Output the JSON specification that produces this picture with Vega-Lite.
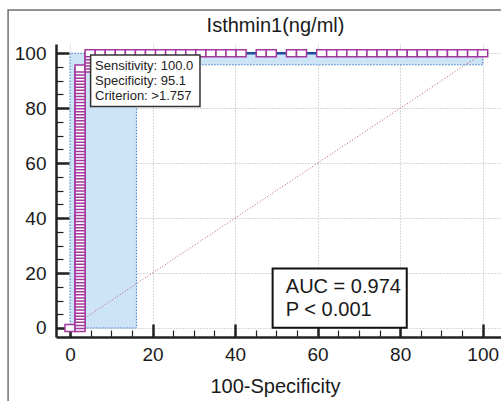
{
"$schema": "https://vega.github.io/schema/vega-lite/v6.json",
"width": 445, "height": 293,
"autosize": "none",
"padding": {"left": 56, "top": 44, "right": 0, "bottom": 64},
"background": "white",
"config": {"view": {"stroke": null}, "font": "Liberation Sans"},
"title": {"text": "Isthmin1(ng/ml)", "fontSize": 20, "fontWeight": "normal", "font": "Liberation Sans", "color": "#1a1a1a", "anchor": "middle", "frame": "group", "baseline": "alphabetic", "offset": 0, "dx": -3, "dy": 43},
"datasets": {
"frame": [{"x": -15.0, "x2": 110, "y": -30, "y2": 115.8}],
"band": [{"x": 0, "x2": 16.1, "y": 0, "y2": 100}, {"x": 16.1, "x2": 100, "y": 95.8, "y2": 100}],
"edge": [{"o": 0, "x": 0, "y": 0}, {"o": 1, "x": 0, "y": 100}, {"o": 2, "x": 100, "y": 100}, {"o": 3, "x": 100, "y": 95.8}, {"o": 4, "x": 16.1, "y": 95.8}, {"o": 5, "x": 16.1, "y": 0}, {"o": 6, "x": 0, "y": 0}],
"diag": [{"x": 0, "y": 0}, {"x": 100, "y": 100}],
"roc": [
{"i":0,"x":0,"y":0},{"i":1,"x":2.44,"y":0},
{"i":2,"x":2.44,"y":1.11},{"i":3,"x":2.44,"y":2.22},{"i":4,"x":2.44,"y":3.33},{"i":5,"x":2.44,"y":4.44},{"i":6,"x":2.44,"y":5.56},{"i":7,"x":2.44,"y":6.67},{"i":8,"x":2.44,"y":7.78},{"i":9,"x":2.44,"y":8.89},{"i":10,"x":2.44,"y":10},
{"i":11,"x":2.44,"y":11.11},{"i":12,"x":2.44,"y":12.22},{"i":13,"x":2.44,"y":13.33},{"i":14,"x":2.44,"y":14.44},{"i":15,"x":2.44,"y":15.56},{"i":16,"x":2.44,"y":16.67},{"i":17,"x":2.44,"y":17.78},{"i":18,"x":2.44,"y":18.89},{"i":19,"x":2.44,"y":20},{"i":20,"x":2.44,"y":21.11},
{"i":21,"x":2.44,"y":22.22},{"i":22,"x":2.44,"y":23.33},{"i":23,"x":2.44,"y":24.44},{"i":24,"x":2.44,"y":25.56},{"i":25,"x":2.44,"y":26.67},{"i":26,"x":2.44,"y":27.78},{"i":27,"x":2.44,"y":28.89},{"i":28,"x":2.44,"y":30},{"i":29,"x":2.44,"y":31.11},{"i":30,"x":2.44,"y":32.22},
{"i":31,"x":2.44,"y":33.33},{"i":32,"x":2.44,"y":34.44},{"i":33,"x":2.44,"y":35.56},{"i":34,"x":2.44,"y":36.67},{"i":35,"x":2.44,"y":37.78},{"i":36,"x":2.44,"y":38.89},{"i":37,"x":2.44,"y":40},{"i":38,"x":2.44,"y":41.11},{"i":39,"x":2.44,"y":42.22},{"i":40,"x":2.44,"y":43.33},
{"i":41,"x":2.44,"y":44.44},{"i":42,"x":2.44,"y":45.56},{"i":43,"x":2.44,"y":46.67},{"i":44,"x":2.44,"y":47.78},{"i":45,"x":2.44,"y":48.89},{"i":46,"x":2.44,"y":50},{"i":47,"x":2.44,"y":51.11},{"i":48,"x":2.44,"y":52.22},{"i":49,"x":2.44,"y":53.33},{"i":50,"x":2.44,"y":54.44},
{"i":51,"x":2.44,"y":55.56},{"i":52,"x":2.44,"y":56.67},{"i":53,"x":2.44,"y":57.78},{"i":54,"x":2.44,"y":58.89},{"i":55,"x":2.44,"y":60},{"i":56,"x":2.44,"y":61.11},{"i":57,"x":2.44,"y":62.22},{"i":58,"x":2.44,"y":63.33},{"i":59,"x":2.44,"y":64.44},{"i":60,"x":2.44,"y":65.56},
{"i":61,"x":2.44,"y":66.67},{"i":62,"x":2.44,"y":67.78},{"i":63,"x":2.44,"y":68.89},{"i":64,"x":2.44,"y":70},{"i":65,"x":2.44,"y":71.11},{"i":66,"x":2.44,"y":72.22},{"i":67,"x":2.44,"y":73.33},{"i":68,"x":2.44,"y":74.44},{"i":69,"x":2.44,"y":75.56},{"i":70,"x":2.44,"y":76.67},
{"i":71,"x":2.44,"y":77.78},{"i":72,"x":2.44,"y":78.89},{"i":73,"x":2.44,"y":80},{"i":74,"x":2.44,"y":81.11},{"i":75,"x":2.44,"y":82.22},{"i":76,"x":2.44,"y":83.33},{"i":77,"x":2.44,"y":84.44},{"i":78,"x":2.44,"y":85.56},{"i":79,"x":2.44,"y":86.67},{"i":80,"x":2.44,"y":87.78},
{"i":81,"x":2.44,"y":88.89},{"i":82,"x":2.44,"y":90},{"i":83,"x":2.44,"y":91.11},{"i":84,"x":2.44,"y":92.22},{"i":85,"x":2.44,"y":93.33},{"i":86,"x":2.44,"y":94.44},
{"i":87,"x":4.88,"y":94.44},{"i":88,"x":4.88,"y":95.56},{"i":89,"x":4.88,"y":96.67},{"i":90,"x":4.88,"y":97.78},{"i":91,"x":4.88,"y":98.89},{"i":92,"x":4.88,"y":100},
{"i":93,"x":7.32,"y":100},{"i":94,"x":9.76,"y":100},{"i":95,"x":12.2,"y":100},{"i":96,"x":14.63,"y":100},{"i":97,"x":17.07,"y":100},{"i":98,"x":19.51,"y":100},{"i":99,"x":21.95,"y":100},{"i":100,"x":24.39,"y":100},{"i":101,"x":26.83,"y":100},{"i":102,"x":29.27,"y":100},
{"i":103,"x":31.71,"y":100},{"i":104,"x":34.15,"y":100},{"i":105,"x":36.59,"y":100},{"i":106,"x":39.02,"y":100},{"i":107,"x":41.46,"y":100},{"i":108,"x":46.34,"y":100},{"i":109,"x":48.78,"y":100},{"i":110,"x":53.66,"y":100},{"i":111,"x":56.1,"y":100},{"i":112,"x":60.98,"y":100},
{"i":113,"x":63.41,"y":100},{"i":114,"x":65.85,"y":100},{"i":115,"x":68.29,"y":100},{"i":116,"x":70.73,"y":100},{"i":117,"x":73.17,"y":100},{"i":118,"x":75.61,"y":100},{"i":119,"x":78.05,"y":100},{"i":120,"x":80.49,"y":100},{"i":121,"x":82.93,"y":100},{"i":122,"x":85.37,"y":100},
{"i":123,"x":87.8,"y":100},{"i":124,"x":90.24,"y":100},{"i":125,"x":92.68,"y":100},{"i":126,"x":95.12,"y":100},{"i":127,"x":97.56,"y":100},{"i":128,"x":100,"y":100}
],
"critbox": [{"x": 5.0, "x2": 31.5, "y": 80.6, "y2": 99.4}],
"crittext": [{"x": 6.06, "y": 93.9, "t": "Sensitivity: 100.0"}, {"x": 6.06, "y": 88.5, "t": "Specificity: 95.1"}, {"x": 6.06, "y": 83.0, "t": "Criterion: >1.757"}],
"aucbox": [{"x": 49.1, "x2": 81.6, "y": 0.1, "y2": 21.7}],
"auctext": [{"x": 52.3, "y": 12.85, "t": "AUC = 0.974"}, {"x": 52.3, "y": 4.4, "t": "P < 0.001"}]
},
"layer": [
{"data": {"name": "band"}, "mark": {"type": "rect", "fill": "#cde3f6"},
 "encoding": {
  "x": {"field": "x", "type": "quantitative", "scale": {"domain": [-3.39, 104.44], "nice": false, "zero": false},
   "axis": {"orient": "bottom", "values": [0, 20, 40, 60, 80, 100], "grid": true, "gridColor": "#b0b0b0", "gridDash": [1, 2], "gridWidth": 1, "ticks": false, "domain": true, "domainColor": "#222222", "domainWidth": 2.5, "labelFontSize": 19, "labelColor": "#1a1a1a", "labelPadding": 8, "labelFont": "Liberation Sans", "title": "100-Specificity", "titleFont": "Liberation Sans", "titleFontSize": 20, "titleFontWeight": "normal", "titleColor": "#1a1a1a", "titleX": 219, "titleY": 55, "titleBaseline": "alphabetic"}},
  "x2": {"field": "x2"},
  "y": {"field": "y", "type": "quantitative", "scale": {"domain": [-3.28, 103.38], "nice": false, "zero": false},
   "axis": {"orient": "left", "values": [0, 20, 40, 60, 80, 100], "grid": true, "gridColor": "#b0b0b0", "gridDash": [1, 2], "gridWidth": 1, "ticks": false, "domain": true, "domainColor": "#222222", "domainWidth": 2.5, "labelFontSize": 19, "labelColor": "#1a1a1a", "labelPadding": 10, "labelFont": "Liberation Sans", "title": null}},
  "y2": {"field": "y2"}
 }},
{"data": {"name": "frame"}, "mark": {"type": "rect", "fill": null, "fillOpacity": 0, "stroke": "#707070", "strokeWidth": 1.5},
 "encoding": {
  "x": {"field": "x", "type": "quantitative", "scale": {"domain": [-3.39, 104.44], "nice": false, "zero": false}, "axis": null},
  "x2": {"field": "x2"},
  "y": {"field": "y", "type": "quantitative", "scale": {"domain": [-3.28, 103.38], "nice": false, "zero": false}, "axis": null},
  "y2": {"field": "y2"}
 }},
{"data": {"name": "edge"}, "mark": {"type": "line", "stroke": "#3d7cc9", "strokeWidth": 1, "strokeDash": [1.5, 1.5]},
 "encoding": {
  "x": {"field": "x", "type": "quantitative", "scale": {"domain": [-3.39, 104.44], "nice": false, "zero": false},
   "axis": {"orient": "bottom", "values": [0, 20, 40, 60, 80, 100], "grid": false, "domain": false, "labels": false, "ticks": true, "tickSize": -13, "tickWidth": 2.5, "tickColor": "#222222", "title": null}},
  "y": {"field": "y", "type": "quantitative", "scale": {"domain": [-3.28, 103.38], "nice": false, "zero": false},
   "axis": {"orient": "left", "values": [0, 20, 40, 60, 80, 100], "grid": false, "domain": false, "labels": false, "ticks": true, "tickSize": -13, "tickWidth": 2.5, "tickColor": "#222222", "title": null}},
  "order": {"field": "o", "type": "quantitative"}
 }},
{"data": {"name": "diag"}, "mark": {"type": "line", "stroke": "#c0507a", "strokeWidth": 1, "strokeDash": [1, 2]},
 "encoding": {
  "x": {"field": "x", "type": "quantitative", "scale": {"domain": [-3.39, 104.44], "nice": false, "zero": false},
   "axis": {"orient": "bottom", "values": [0, 5, 10, 15, 20, 25, 30, 35, 40, 45, 50, 55, 60, 65, 70, 75, 80, 85, 90, 95, 100], "grid": false, "domain": false, "labels": false, "ticks": true, "tickSize": -7, "tickWidth": 1.2, "tickColor": "#222222", "title": null}},
  "y": {"field": "y", "type": "quantitative", "scale": {"domain": [-3.28, 103.38], "nice": false, "zero": false},
   "axis": {"orient": "left", "values": [0, 5, 10, 15, 20, 25, 30, 35, 40, 45, 50, 55, 60, 65, 70, 75, 80, 85, 90, 95, 100], "grid": false, "domain": false, "labels": false, "ticks": true, "tickSize": -7, "tickWidth": 1.2, "tickColor": "#222222", "title": null}}
 }},
{"data": {"name": "roc"}, "mark": {"type": "line", "stroke": "#1f4e9e", "strokeWidth": 2.5},
 "encoding": {
  "x": {"field": "x", "type": "quantitative", "scale": {"domain": [-3.39, 104.44], "nice": false, "zero": false}, "axis": null},
  "y": {"field": "y", "type": "quantitative", "scale": {"domain": [-3.28, 103.38], "nice": false, "zero": false}, "axis": null},
  "order": {"field": "i", "type": "quantitative"}
 }},
{"data": {"name": "roc"}, "mark": {"type": "point", "shape": "M-1,-0.7H1V0.7H-1Z", "size": 100, "fill": "white", "fillOpacity": 1, "stroke": "#a3389f", "strokeWidth": 1.5, "opacity": 1},
 "encoding": {
  "x": {"field": "x", "type": "quantitative", "scale": {"domain": [-3.39, 104.44], "nice": false, "zero": false}, "axis": null},
  "y": {"field": "y", "type": "quantitative", "scale": {"domain": [-3.28, 103.38], "nice": false, "zero": false}, "axis": null}
 }},
{"data": {"name": "critbox"}, "mark": {"type": "rect", "fill": "white", "stroke": "#333333", "strokeWidth": 1.5},
 "encoding": {
  "x": {"field": "x", "type": "quantitative", "scale": {"domain": [-3.39, 104.44], "nice": false, "zero": false}, "axis": null},
  "x2": {"field": "x2"},
  "y": {"field": "y", "type": "quantitative", "scale": {"domain": [-3.28, 103.38], "nice": false, "zero": false}, "axis": null},
  "y2": {"field": "y2"}
 }},
{"data": {"name": "crittext"}, "mark": {"type": "text", "align": "left", "baseline": "alphabetic", "fontSize": 13, "font": "Liberation Sans", "fill": "#222222"},
 "encoding": {
  "x": {"field": "x", "type": "quantitative", "scale": {"domain": [-3.39, 104.44], "nice": false, "zero": false}, "axis": null},
  "y": {"field": "y", "type": "quantitative", "scale": {"domain": [-3.28, 103.38], "nice": false, "zero": false}, "axis": null},
  "text": {"field": "t"}
 }},
{"data": {"name": "aucbox"}, "mark": {"type": "rect", "fill": "white", "stroke": "#111111", "strokeWidth": 2},
 "encoding": {
  "x": {"field": "x", "type": "quantitative", "scale": {"domain": [-3.39, 104.44], "nice": false, "zero": false}, "axis": null},
  "x2": {"field": "x2"},
  "y": {"field": "y", "type": "quantitative", "scale": {"domain": [-3.28, 103.38], "nice": false, "zero": false}, "axis": null},
  "y2": {"field": "y2"}
 }},
{"data": {"name": "auctext"}, "mark": {"type": "text", "align": "left", "baseline": "alphabetic", "fontSize": 20, "font": "Liberation Sans", "fill": "#1a1a1a"},
 "encoding": {
  "x": {"field": "x", "type": "quantitative", "scale": {"domain": [-3.39, 104.44], "nice": false, "zero": false}, "axis": null},
  "y": {"field": "y", "type": "quantitative", "scale": {"domain": [-3.28, 103.38], "nice": false, "zero": false}, "axis": null},
  "text": {"field": "t"}
 }}
],
"resolve": {"axis": {"x": "independent", "y": "independent"}}
}
